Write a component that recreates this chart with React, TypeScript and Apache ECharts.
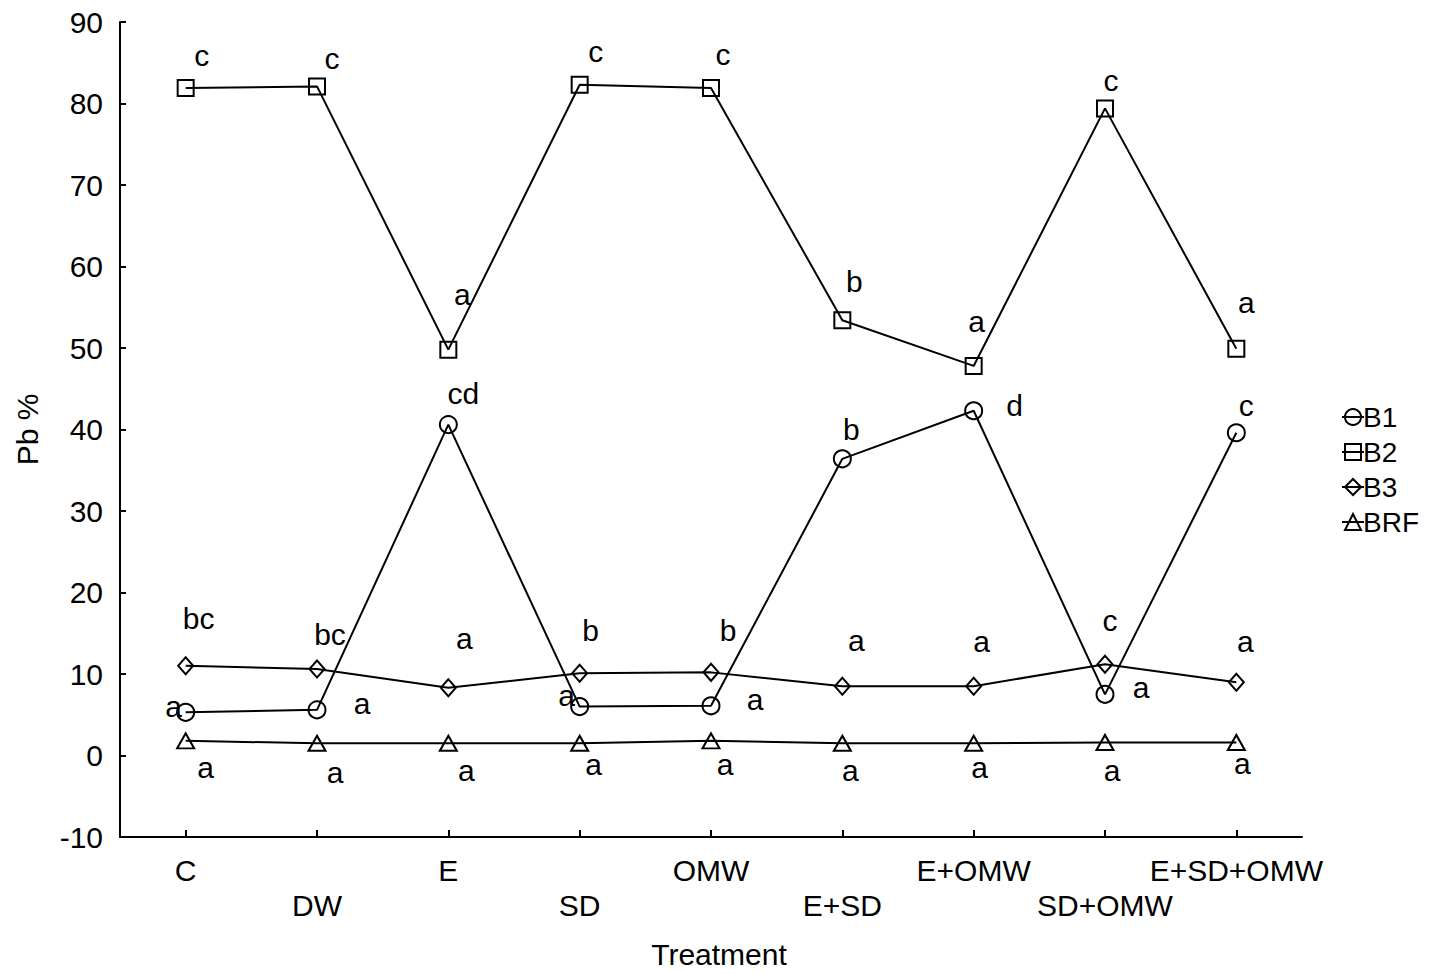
import React, { useEffect, useRef } from "react";
import * as echarts from "echarts";

const categories = ["C", "DW", "E", "SD", "OMW", "E+SD", "E+OMW", "SD+OMW", "E+SD+OMW"];
const b1 = [5.3, 5.6, 40.6, 6.0, 6.1, 36.4, 42.3, 7.5, 39.6];
const b2 = [81.9, 82.1, 49.8, 82.3, 81.9, 53.4, 47.8, 79.4, 49.9];
const b3 = [11.0, 10.6, 8.3, 10.1, 10.2, 8.5, 8.5, 11.2, 9.0];
const brf = [1.8, 1.5, 1.5, 1.5, 1.8, 1.5, 1.5, 1.6, 1.6];
const b1Letters = ["a", "a", "cd", "a", "a", "b", "d", "a", "c"];
const b2Letters = ["c", "c", "a", "c", "c", "b", "a", "c", "a"];
const b3Letters = ["bc", "bc", "a", "b", "b", "a", "a", "c", "a"];
const brfLetters = ["a", "a", "a", "a", "a", "a", "a", "a", "a"];
const yTicks = { min: -10, max: 90, interval: 10 };

// label placement (pixel offsets from each marker)
const b1Off = [[-12, -6], [45, -6], [15, -31], [-13, -11], [44, -6], [9, -29], [41, -5], [36, -7], [10, -27]];
const b2Off = [[16, -33], [15, -28], [14, -55], [16, -33], [12, -34], [12, -39], [3, -44], [6, -28], [10, -46]];
const b3Off = [[13, -47], [13, -35], [16, -49], [11, -43], [17, -42], [14, -46], [8, -45], [5, -44], [9, -41]];
const brfOff = [[20, 27], [18, 29], [18, 27], [14, 21], [14, 24], [8, 27], [6, 24], [7, 28], [6, 21]];

const FONT = "'Liberation Sans', Arial, sans-serif";
const FS = 30;

function mkSeries(name: string, vals: number[], letters: string[], offs: number[][], symbol: string, size: any) {
  return {
    name,
    type: "line",
    symbol,
    symbolSize: size,
    showAllSymbol: true,
    lineStyle: { color: "#000", width: 2 },
    itemStyle: { color: "rgba(0,0,0,0)", borderColor: "#000", borderWidth: 2 },
    emphasis: { disabled: true },
    data: vals.map((v, i) => ({
      value: v,
      label: {
        show: true,
        position: "inside",
        formatter: letters[i],
        offset: offs[i],
        color: "#000",
        fontSize: FS,
        fontFamily: FONT,
        align: "center",
        verticalAlign: "middle",
      },
    })),
  };
}

export default function App() {
  const ref = useRef<HTMLDivElement>(null);
  useEffect(() => {
    if (!ref.current) return;
    const chart = echarts.init(ref.current, undefined, { renderer: "svg" });
    chart.setOption({
      animation: false,
      backgroundColor: "#fff",
      textStyle: { fontFamily: FONT },
      grid: { left: 120, right: 132, top: 22, bottom: 137, containLabel: false },
      legend: {
        orient: "vertical",
        left: 1336,
        top: 398,
        itemGap: 7,
        itemWidth: 22,
        itemHeight: 20,
        textStyle: { fontSize: 28, color: "#000", fontFamily: FONT, padding: [0, 0, 0, -6] },
        data: ["B1", "B2", "B3", "BRF"],
        selectedMode: false,
      },
      xAxis: {
        type: "category",
        data: categories,
        boundaryGap: true,
        name: "Treatment",
        nameLocation: "middle",
        nameGap: 102,
        nameTextStyle: { fontSize: FS, color: "#000", fontFamily: FONT, padding: [0, 0, 0, 16] },
        axisLine: { onZero: false, lineStyle: { color: "#000", width: 2 } },
        axisTick: { show: true, inside: true, length: 7, alignWithLabel: true, interval: 0, lineStyle: { color: "#000", width: 2 } },
        axisLabel: {
          interval: 0,
          color: "#000",
          fontSize: FS,
          fontFamily: FONT,
          lineHeight: 35,
          margin: 16,
          formatter: (v: string, i: number) => (i % 2 === 1 ? "\n" + v : v),
        },
        splitLine: { show: false },
      },
      yAxis: {
        type: "value",
        min: yTicks.min,
        max: yTicks.max,
        interval: yTicks.interval,
        name: "Pb %",
        nameLocation: "middle",
        nameGap: 78,
        nameRotate: 90,
        nameTextStyle: { fontSize: FS, color: "#000", fontFamily: FONT },
        axisLine: { show: true, onZero: false, lineStyle: { color: "#000", width: 2 } },
        axisTick: { show: true, inside: true, length: 6, lineStyle: { color: "#000", width: 2 } },
        axisLabel: { color: "#000", fontSize: FS, fontFamily: FONT, margin: 17 },
        splitLine: { show: false },
      },
      series: [
        mkSeries("B1", b1, b1Letters, b1Off, "circle", 17),
        mkSeries("B2", b2, b2Letters, b2Off, "rect", 16),
        mkSeries("B3", b3, b3Letters, b3Off, "diamond", [15, 17]),
        mkSeries("BRF", brf, brfLetters, brfOff, "triangle", [17, 15]),
      ],
    });
    return () => chart.dispose();
  }, []);
  return <div ref={ref} style={{ position: "fixed", left: 0, top: 0, width: 1434, height: 974 }} />;
}
